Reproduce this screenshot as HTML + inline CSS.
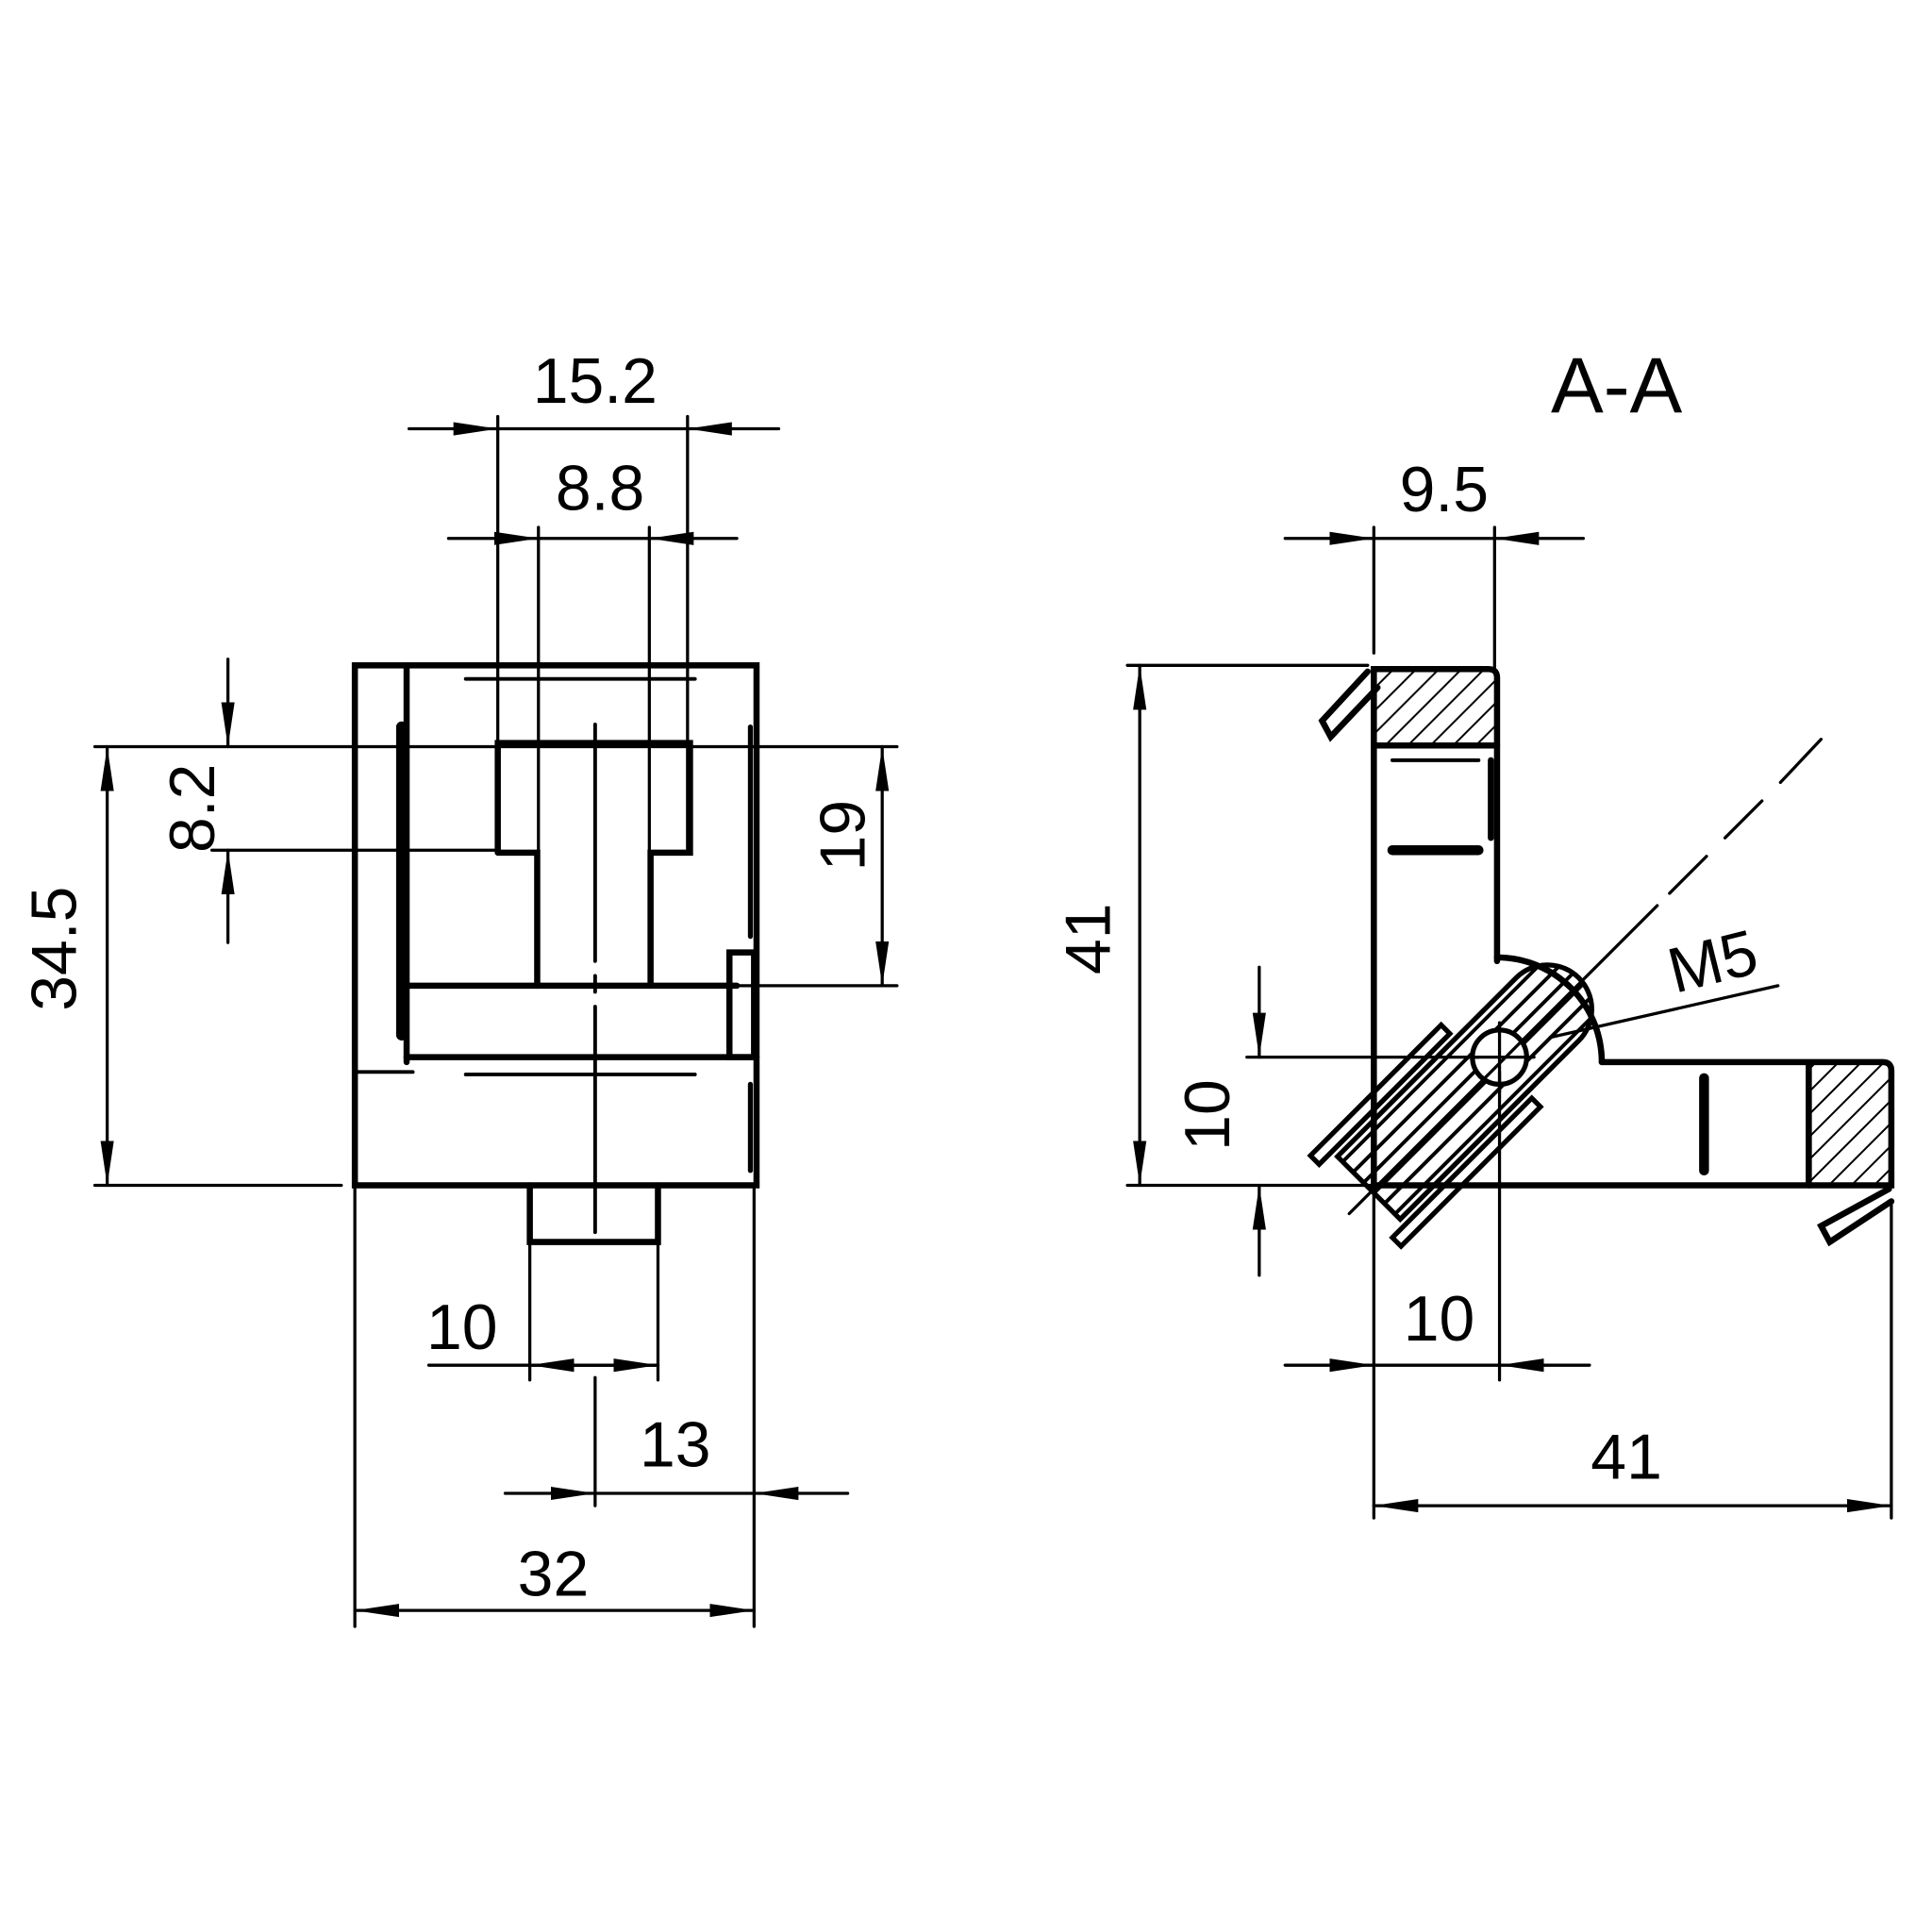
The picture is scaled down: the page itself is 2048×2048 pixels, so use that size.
<!DOCTYPE html>
<html><head><meta charset="utf-8"><style>html,body{margin:0;padding:0;background:#fff}svg{display:block}</style></head>
<body>
<svg width="2048" height="2048" viewBox="0 0 1568 1568" xmlns="http://www.w3.org/2000/svg" font-family="Liberation Sans, sans-serif">
<defs>
<pattern id="h" patternUnits="userSpaceOnUse" width="13" height="13" patternTransform="rotate(-45)"><line x1="0" y1="0" x2="13" y2="0" stroke="#000" stroke-width="3"/></pattern>
<pattern id="h2" patternUnits="userSpaceOnUse" width="13" height="12"><line x1="0" y1="6" x2="13" y2="6" stroke="#000" stroke-width="3"/></pattern>
<marker id="a" viewBox="0 0 10 10" refX="10" refY="5" markerWidth="36" markerHeight="12" markerUnits="userSpaceOnUse" preserveAspectRatio="none" orient="auto-start-reverse"><path d="M0,0.5 L10,5 L0,9.5 z" fill="#000"/></marker>
</defs>
<g fill="none" stroke="#000" stroke-linecap="round">
<!-- LEFT VIEW -->
<g stroke-width="5">
<rect x="288" y="540" width="326" height="422"/>
<line x1="330" y1="540" x2="330" y2="862"/>
<line x1="330" y1="800" x2="598" y2="800"/>
<line x1="330" y1="858" x2="614" y2="858"/>
<path d="M404,692 V603 H560 V692 H528 V800 M404,692 H436 V800"/>
<rect x="592" y="773" width="20" height="85"/>
<path d="M430,962 V1008 H534 V962"/>
</g>
<line x1="326" y1="590" x2="326" y2="840" stroke-width="9"/>
<line x1="609" y1="590" x2="609" y2="760" stroke-width="4"/>
<line x1="609" y1="880" x2="609" y2="950" stroke-width="4"/>
<g stroke-width="3">
<line x1="378" y1="551" x2="564" y2="551"/>
<line x1="378" y1="872" x2="564" y2="872"/>
<line x1="290" y1="870" x2="335" y2="870"/>
<line x1="483" y1="588" x2="483" y2="780"/><line x1="483" y1="792" x2="483" y2="805"/><line x1="483" y1="817" x2="483" y2="1000"/>
</g>
<!-- left dims -->
<g stroke-width="2.5">
<line x1="404" y1="338" x2="404" y2="690"/><line x1="558" y1="338" x2="558" y2="690"/>
<line x1="332" y1="348" x2="404" y2="348" marker-end="url(#a)"/><line x1="632" y1="348" x2="558" y2="348" marker-end="url(#a)"/><line x1="404" y1="348" x2="558" y2="348"/>
<line x1="437" y1="428" x2="437" y2="800"/><line x1="527" y1="428" x2="527" y2="800"/>
<line x1="364" y1="437" x2="437" y2="437" marker-end="url(#a)"/><line x1="598" y1="437" x2="527" y2="437" marker-end="url(#a)"/><line x1="437" y1="437" x2="527" y2="437"/>
<line x1="77" y1="606" x2="728" y2="606"/><line x1="172" y1="690" x2="404" y2="690"/>
<line x1="185" y1="535" x2="185" y2="606" marker-end="url(#a)"/><line x1="185" y1="765" x2="185" y2="690" marker-end="url(#a)"/>
<line x1="77" y1="962" x2="277" y2="962"/>
<line x1="87" y1="606" x2="87" y2="962" marker-start="url(#a)" marker-end="url(#a)"/>
<line x1="600" y1="800" x2="728" y2="800"/>
<line x1="716" y1="606" x2="716" y2="800" marker-start="url(#a)" marker-end="url(#a)"/>
<line x1="430" y1="1008" x2="430" y2="1120"/><line x1="534" y1="1008" x2="534" y2="1120"/>
<line x1="348" y1="1108" x2="534" y2="1108"/><line x1="483" y1="1108" x2="430" y2="1108" marker-end="url(#a)"/><line x1="483" y1="1108" x2="534" y2="1108" marker-end="url(#a)"/>
<line x1="483" y1="1118" x2="483" y2="1222"/><line x1="612" y1="962" x2="612" y2="1320"/><line x1="288" y1="962" x2="288" y2="1320"/>
<line x1="410" y1="1212" x2="483" y2="1212" marker-end="url(#a)"/><line x1="688" y1="1212" x2="612" y2="1212" marker-end="url(#a)"/><line x1="483" y1="1212" x2="612" y2="1212"/>
<line x1="288" y1="1307" x2="612" y2="1307" marker-start="url(#a)" marker-end="url(#a)"/>
</g>
<!-- A-A VIEW -->
<rect x="1117" y="543" width="98" height="62" fill="url(#h)" stroke="none"/>
<rect x="1468" y="864" width="67" height="98" fill="url(#h)" stroke="none"/>
<g stroke-width="5">
<path d="M1115,962 V543 H1208 Q1215,543 1215,550 V780"/>
<line x1="1117" y1="605" x2="1215" y2="605"/>
<path d="M1300,862 H1528 Q1535,862 1535,869 V962 H1115"/>
<line x1="1468" y1="864" x2="1468" y2="962"/>
<path d="M1215,777 A85,85 0 0 1 1300,862"/>
<path d="M1110,545 L1073,585 L1080,598 L1118,558"/>
<path d="M1533,965 L1478,995 L1485,1008 L1535,975"/>
</g>
<line x1="1130" y1="690" x2="1200" y2="690" stroke-width="8"/>
<line x1="1383" y1="875" x2="1383" y2="950" stroke-width="8"/>
<line x1="1130" y1="617" x2="1200" y2="617" stroke-width="3"/>
<line x1="1210" y1="617" x2="1210" y2="680" stroke-width="5"/>
<!-- nut -->
<g transform="translate(1217,858) rotate(-45)">
<path d="M-150,-36 H55 A36,36 0 0 1 55,36 H-150 Z" fill="url(#h2)" stroke="#000" stroke-width="4"/>
<rect x="-165" y="-52" width="150" height="10" stroke-width="4"/>
<rect x="-165" y="42" width="160" height="10" stroke-width="4"/>
<circle cx="0" cy="0" r="22" stroke-width="4" fill="#fff"/>
</g>
<line x1="1217" y1="830" x2="1217" y2="886" stroke-width="2.5"/>
<line x1="1189" y1="858" x2="1245" y2="858" stroke-width="2.5"/>
<g stroke-width="2.5">
<line x1="1095" y1="985" x2="1345" y2="735"/>
<line x1="1355" y1="725" x2="1385" y2="695"/><line x1="1400" y1="680" x2="1430" y2="650"/><line x1="1445" y1="635" x2="1478" y2="600"/>
<line x1="1258" y1="842" x2="1443" y2="800"/>
<line x1="1115" y1="428" x2="1115" y2="530"/><line x1="1213" y1="428" x2="1213" y2="545"/>
<line x1="1043" y1="437" x2="1115" y2="437" marker-end="url(#a)"/><line x1="1285" y1="437" x2="1213" y2="437" marker-end="url(#a)"/><line x1="1115" y1="437" x2="1213" y2="437"/>
<line x1="915" y1="540" x2="1110" y2="540"/><line x1="915" y1="962" x2="1115" y2="962"/>
<line x1="925" y1="540" x2="925" y2="962" marker-start="url(#a)" marker-end="url(#a)"/>
<line x1="1012" y1="858" x2="1200" y2="858"/>
<line x1="1022" y1="785" x2="1022" y2="858" marker-end="url(#a)"/><line x1="1022" y1="1035" x2="1022" y2="962" marker-end="url(#a)"/>
<line x1="1217" y1="870" x2="1217" y2="1120"/>
<line x1="1043" y1="1108" x2="1115" y2="1108" marker-end="url(#a)"/><line x1="1290" y1="1108" x2="1217" y2="1108" marker-end="url(#a)"/><line x1="1115" y1="1108" x2="1217" y2="1108"/>
<line x1="1115" y1="962" x2="1115" y2="1232"/><line x1="1535" y1="975" x2="1535" y2="1232"/>
<line x1="1115" y1="1222" x2="1535" y2="1222" marker-start="url(#a)" marker-end="url(#a)"/>
</g>
</g>
<g fill="#000" font-size="52" text-anchor="middle">
<text x="483" y="327">15.2</text>
<text x="487" y="414">8.8</text>
<text x="160" y="656" transform="rotate(-90 160 656)" dominant-baseline="middle">8.2</text>
<text x="48" y="770" transform="rotate(-90 48 770)" dominant-baseline="middle">34.5</text>
<text x="688" y="678" transform="rotate(-90 688 678)" dominant-baseline="middle">19</text>
<text x="375" y="1095">10</text>
<text x="548" y="1190">13</text>
<text x="449" y="1295">32</text>
<text x="1312" y="335" font-size="64">A-A</text>
<text x="1172" y="415">9.5</text>
<text x="887" y="762" transform="rotate(-90 887 762)" dominant-baseline="middle">41</text>
<text x="984" y="905" transform="rotate(-90 984 905)" dominant-baseline="middle">10</text>
<text x="1168" y="1088">10</text>
<text x="1320" y="1200">41</text>
<text x="1390" y="798" transform="rotate(-14 1390 780)">M5</text>
</g>
</svg>
</body></html>
